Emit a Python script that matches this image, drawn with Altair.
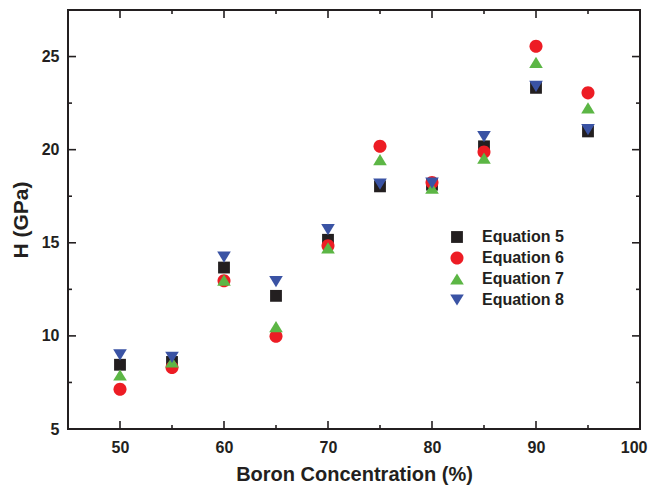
import altair as alt
import pandas as pd

# ---- data ----
boron = [50, 55, 60, 65, 70, 75, 80, 85, 90, 95]
eq5 = [8.45, 8.6, 13.67, 12.15, 15.16, 18.03, 18.12, 20.18, 23.32, 20.98]
eq6 = [7.13, 8.3, 12.96, 9.98, 14.84, 20.18, 18.24, 19.88, 25.55, 23.05]
eq7 = [7.9, 8.6, 13.0, 10.5, 14.72, 19.46, 17.94, 19.55, 24.69, 22.24]
eq8 = [8.98, 8.85, 14.23, 12.92, 15.7, 18.15, 18.2, 20.7, 23.4, 21.08]

series_names = ["Equation 5", "Equation 6", "Equation 7", "Equation 8"]
series_vals = [eq5, eq6, eq7, eq8]
colors = ["#231f20", "#ed1c24", "#5cb645", "#3a53a4"]
shapes = [
    "square",
    "M1.1,0A1.1,1.1,0,1,1,-1.1,0A1.1,1.1,0,1,1,1.1,0Z",
    "M0,-0.95L1.15,0.95L-1.15,0.95Z",
    "M-1.15,-0.95L1.15,-0.95L0,0.95Z",
]

x_major = [50, 60, 70, 80, 90, 100]
x_minor = [55, 65, 75, 85, 95]
y_major = [5, 10, 15, 20, 25]
y_minor = [7.5, 12.5, 17.5, 22.5]

rows = []
k = 0
for name, vals in zip(series_names, series_vals):
    for xv, yv in zip(boron, vals):
        rows.append({"x": xv, "y": yv, "series": name, "idx": k})
        k += 1
df = pd.DataFrame(rows)

W, H = 572, 419
FONT = "Liberation Sans"
INK = "#231f20"

xs = alt.Scale(domain=[45, 100], nice=False, zero=False)
ys = alt.Scale(domain=[5, 27.5], nice=False, zero=False)

points = alt.Chart(df).mark_point(filled=True, opacity=1, size=140, strokeWidth=0).encode(
    x=alt.X("x:Q", scale=xs, axis=alt.Axis(
        values=x_major, ticks=False, domain=False, grid=False,
        labelFlush=1, labelFlushOffset=7,
        labelFont=FONT, labelFontSize=16, labelFontWeight="bold", labelColor=INK,
        labelPadding=10, title="Boron Concentration (%)", titleFont=FONT,
        titleFontSize=20, titleFontWeight="bold", titleColor=INK, titlePadding=9)),
    y=alt.Y("y:Q", scale=ys, axis=alt.Axis(
        values=y_major, ticks=False, domain=False, grid=False, labelFlush=False,
        labelFont=FONT, labelFontSize=16, labelFontWeight="bold", labelColor=INK,
        labelPadding=9, title="H (GPa)", titleFont=FONT,
        titleFontSize=21, titleFontWeight="bold", titleColor=INK, titlePadding=10)),
    color=alt.Color("series:N", scale=alt.Scale(domain=series_names, range=colors),
                    legend=alt.Legend(orient="none", legendX=381, legendY=219, title=None,
                                      labelFont=FONT, labelFontSize=16, labelFontWeight="bold",
                                      labelColor=INK, symbolSize=140, rowPadding=5,
                                      labelOffset=17, symbolStrokeWidth=0)),
    shape=alt.Shape("series:N", scale=alt.Scale(domain=series_names, range=shapes)),
    order=alt.Order("idx:Q"),
)


def xticks(vals, length, top):
    d = pd.DataFrame({"v": vals})
    if top:
        yy, yy2 = alt.value(0), alt.value(length)
    else:
        yy, yy2 = alt.value(H), alt.value(H - length)
    return alt.Chart(d).mark_rule(color=INK, strokeWidth=1.6).encode(
        x=alt.X("v:Q", scale=xs), y=yy, y2=yy2)


def yticks(vals, length, right):
    d = pd.DataFrame({"v": vals})
    if right:
        xx, xx2 = alt.value(W), alt.value(W - length)
    else:
        xx, xx2 = alt.value(0), alt.value(length)
    return alt.Chart(d).mark_rule(color=INK, strokeWidth=1.6).encode(
        y=alt.Y("v:Q", scale=ys), x=xx, x2=xx2)


layers = [
    points,
    xticks(x_major, 8, False), xticks(x_minor, 4, False),
    xticks(x_major, 8, True), xticks(x_minor, 4, True),
    yticks(y_major, 8, False), yticks(y_minor, 4, False),
    yticks(y_major, 8, True), yticks(y_minor, 4, True),
]

chart = alt.layer(*layers).properties(
    width=W, height=H,
    autosize=alt.AutoSizeParams(type="none"),
    padding={"left": 60, "top": 2, "right": 10, "bottom": 57},
    background="white",
).configure_view(stroke=INK, strokeWidth=2)

chart.save("out.html", embed_options={"renderer": "svg", "actions": False})
